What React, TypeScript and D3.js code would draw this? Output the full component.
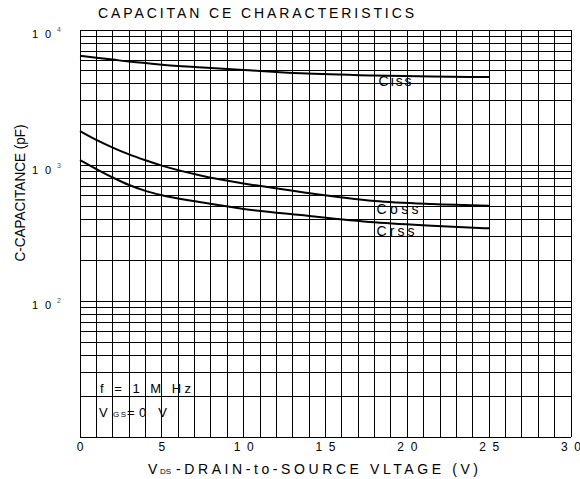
import React from 'react';
import * as d3 from 'd3';

// ---- data ----
const vds = [0, 1, 2, 3, 4, 5, 7.5, 10, 13.5, 18, 21.5, 25];
const ciss = [6470, 6250, 6050, 5850, 5700, 5550, 5300, 5080, 4800, 4620, 4540, 4500];
const coss = [1800, 1550, 1360, 1210, 1095, 1000, 840, 740, 640, 550, 522, 507];
const crss = [1100, 945, 818, 720, 652, 605, 535, 480, 432, 382, 360, 345];

const seriesNames = ['Ciss', 'Coss', 'Crss'];
const xTickValues = [0, 5, 10, 15, 20, 25, 30];
const yTickValues = [10000, 1000, 100];
const yTickExps = ['4', '3', '2'];

const title = 'CAPACITAN CE CHARACTERISTICS';
const yTitle = 'C-CAPACITANCE (pF)';
const xTitleMain = 'V';
const xTitleSub = 'DS';
const xTitleRest = '-DRAIN-to-SOURCE VLTAGE (V)';
const noteLine1 = 'f = 1 M Hz';
const noteLine2Main = 'V';
const noteLine2Sub = 'GS';
const noteLine2Rest = '=0 V';

const FONT = '"Liberation Sans", Arial, sans-serif';

export default function App() {
  const W = 580, H = 479;
  const x = d3.scaleLinear().domain([0, 30]).range([80, 571]);
  const y = d3.scaleLog().domain([10, 10000]).range([437, 30]);

  const vGrid = d3.range(0, 31);
  const hGrid: number[] = [];
  [10, 100, 1000].forEach((d) => {
    for (let k = 1; k <= 9; k++) hGrid.push(d * k);
  });
  hGrid.push(10000);

  const line = d3
    .line<[number, number]>()
    .x((d) => x(d[0]))
    .y((d) => y(d[1]))
    .curve(d3.curveMonotoneX);

  const series = [ciss, coss, crss];
  const labelPos = [
    { v: 18, dy: 11, len: 33, dx: 4 },
    { v: 18, dy: 13, len: 42, dx: 2 },
    { v: 18, dy: 14, len: 38, dx: 2 },
  ];

  return (
    <svg
      width={W}
      height={H}
      style={{ position: 'absolute', left: 0, top: 0, background: '#fff' }}
      fontFamily={FONT}
    >
      <rect x={0} y={0} width={W} height={H} fill="#fff" />
      {/* title */}
      <text x={98} y={18} fontSize={14} textLength={316} lengthAdjust="spacing" fill="#000">
        {title}
      </text>

      {/* grid */}
      <g shapeRendering="crispEdges" stroke="#000" strokeWidth={1}>
        {vGrid.map((v) => (
          <line key={'v' + v} x1={x(v)} x2={x(v)} y1={y(10000)} y2={y(10)} />
        ))}
        {hGrid.map((h) => (
          <line key={'h' + h} x1={x(0)} x2={x(30)} y1={y(h)} y2={y(h)} />
        ))}
        <line x1={x(0)} x2={x(30)} y1={y(10)} y2={y(10)} />
      </g>

      {/* curves */}
      {series.map((s, i) => (
        <path
          key={seriesNames[i]}
          d={line(vds.map((v, j) => [v, s[j]] as [number, number])) || ''}
          fill="none"
          stroke="#000"
          strokeWidth={2}
        />
      ))}

      {/* curve labels */}
      {series.map((s, i) => {
        const lp = labelPos[i];
        const idx = vds.findIndex((v) => v >= lp.v);
        return (
          <text
            key={'l' + i}
            x={x(lp.v) + lp.dx}
            y={y(s[idx]) + lp.dy}
            fontSize={14}
            textLength={lp.len}
            lengthAdjust="spacing"
            fill="#000"
          >
            {seriesNames[i]}
          </text>
        );
      })}

      {/* x tick labels */}
      {xTickValues.map((v) => (
        <text
          key={'xt' + v}
          x={x(v)}
          y={451}
          fontSize={12}
          textAnchor="middle"
          textLength={String(v).length > 1 ? 20 : undefined}
          lengthAdjust="spacing"
          fill="#000"
        >
          {v}
        </text>
      ))}

      {/* y tick labels */}
      {yTickValues.map((v, i) => (
        <g key={'yt' + v}>
          <text x={32} y={y(v) + 8} fontSize={11} textLength={19} lengthAdjust="spacing" fill="#000">
            10
          </text>
          <text x={57} y={y(v) + 2} fontSize={7} fill="#555">
            {yTickExps[i]}
          </text>
        </g>
      ))}

      {/* y title */}
      <text
        transform="translate(25,193) rotate(-90)"
        fontSize={14}
        textAnchor="middle"
        textLength={137}
        lengthAdjust="spacingAndGlyphs"
        fill="#000"
      >
        {yTitle}
      </text>

      {/* x title */}
      <text x={148} y={474} fontSize={14} fill="#000">
        {xTitleMain}
      </text>
      <text x={160} y={474} fontSize={8} textLength={11} lengthAdjust="spacing" fill="#000">
        {xTitleSub}
      </text>
      <text x={176} y={474} fontSize={14} textLength={302} lengthAdjust="spacing" fill="#000">
        {xTitleRest}
      </text>

      {/* conditions note */}
      <text x={100} y={393} fontSize={13} textLength={91} lengthAdjust="spacing" fill="#000">
        {noteLine1}
      </text>
      <text x={99} y={417} fontSize={13} fill="#000">
        {noteLine2Main}
      </text>
      <text x={113} y={417} fontSize={8} textLength={13} lengthAdjust="spacing" fill="#000">
        {noteLine2Sub}
      </text>
      <text x={127} y={417} fontSize={13} textLength={40} lengthAdjust="spacing" fill="#000">
        {noteLine2Rest}
      </text>
    </svg>
  );
}
